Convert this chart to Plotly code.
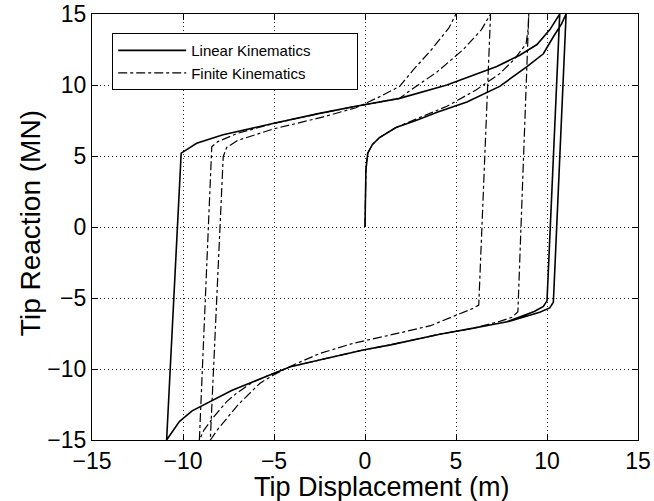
import plotly.graph_objects as go

# ---------------- data ----------------
# Linear kinematics: initial loading branch
lin_load_x = [0, 0.05, 0.15, 0.4, 0.8, 1.7, 2.8, 4.0, 5.6, 7.4, 8.9, 9.8, 10.35, 10.8, 11.05]
lin_load_y = [0, 4.0, 5.2, 5.8, 6.3, 7.0, 7.5, 8.1, 8.8, 9.9, 11.3, 12.2, 13.4, 14.3, 15]
# first unloading branch (to negative side)
lin_unl1_x = [10.35, 10.15, 9.6, 7.9, 5.95, 4.1, 1.4, -0.1, -2.5, -4.1, -5.2, -7.3, -9.5, -10.2, -10.9]
lin_unl1_y = [-5.3, -5.7, -6.0, -6.65, -7.13, -7.55, -8.3, -8.66, -9.37, -9.84, -10.4, -11.5, -12.95, -13.7, -15]
# reloading branch
lin_rel1_x = [-10.1, -9.25, -7.8, -5.0, -2.5, -0.5, 1.9, 4.5, 7.24, 8.5, 9.45, 10.16, 10.7]
lin_rel1_y = [5.2, 5.9, 6.5, 7.3, 8.0, 8.5, 9.06, 10.0, 11.3, 12.1, 12.85, 13.9, 15]
# second unloading branch
lin_unl2_x = [10.0, 9.8, 9.3, 7.8, 5.95, 4.1, 1.4, -0.1, -2.5, -4.1, -5.2, -7.3, -9.5, -10.2, -10.9]
lin_unl2_y = [-5.2, -5.6, -5.95, -6.67, -7.13, -7.55, -8.3, -8.66, -9.37, -9.84, -10.4, -11.5, -12.95, -13.7, -15]

# Finite kinematics branches
fin_load_x = [0, 0.05, 0.15, 0.4, 0.8, 1.7, 2.8, 3.5, 4.5, 6.1, 7.4, 8.2, 8.85, 8.95, 9.0]
fin_load_y = [0, 4.0, 5.2, 5.8, 6.3, 7.0, 7.6, 7.95, 8.5, 9.65, 10.8, 11.8, 12.9, 13.8, 15]
fin_unl1_x = [8.4, 8.1, 7.4, 5.95, 4.1, 1.4, -0.1, -2.5, -4.1, -5.2, -6.2, -7.05, -7.6, -8.33, -8.85, -9.1]
fin_unl1_y = [-5.96, -6.35, -6.65, -7.13, -7.55, -8.3, -8.66, -9.37, -9.84, -10.4, -10.95, -11.7, -12.3, -13.4, -14.3, -15]
fin_rel1_x = [-8.42, -8.1, -7.0, -5.0, -2.5, -0.5, 1.9, 2.47, 3.94, 5.4, 6.4, 6.9]
fin_rel1_y = [5.65, 6.0, 6.6, 7.3, 8.0, 8.5, 9.06, 9.6, 10.9, 12.5, 13.9, 15]
fin_unl2_x = [6.25, 5.9, 4.85, 3.6, 2.1, 0.8, -0.64, -2.47, -4.0, -5.0, -5.77, -6.96, -8.06, -8.5]
fin_unl2_y = [-5.5, -5.75, -6.3, -6.95, -7.4, -7.75, -8.19, -8.9, -9.75, -10.4, -11.0, -12.5, -14.2, -15]
fin_rel2_x = [-7.79, -7.6, -7.0, -5.04, -2.3, -0.5, 0.82, 1.9, 2.65, 3.66, 4.6, 5.0]
fin_rel2_y = [4.95, 5.6, 6.1, 6.9, 7.75, 8.4, 9.18, 9.9, 11.06, 12.5, 14.0, 15]

x_ticks = [-15, -10, -5, 0, 5, 10, 15]
y_ticks = [-15, -10, -5, 0, 5, 10, 15]
series_names = ["Linear Kinematics", "Finite Kinematics"]

lin_x = lin_load_x + lin_unl1_x + lin_rel1_x + lin_unl2_x
lin_y = lin_load_y + lin_unl1_y + lin_rel1_y + lin_unl2_y
fin_x = fin_load_x + fin_unl1_x + fin_rel1_x + fin_unl2_x + fin_rel2_x
fin_y = fin_load_y + fin_unl1_y + fin_rel1_y + fin_unl2_y + fin_rel2_y

FONT = "Liberation Sans, Arial, Helvetica, sans-serif"
PAD = "\u00a0" * 10  # widens the legend box like the original


def fmt(v):
    return ("\u2212" + str(-v)) if v < 0 else str(v)


fig = go.Figure()
fig.add_trace(go.Scatter(x=lin_x, y=lin_y, mode="lines", name=series_names[0] + PAD,
                         line=dict(color="black", width=1.6)))
fig.add_trace(go.Scatter(x=fin_x, y=fin_y, mode="lines", name=series_names[1],
                         line=dict(color="black", width=1.2, dash="dashdot")))

axis_common = dict(
    showline=True, linecolor="black", linewidth=1.2, mirror="ticks",
    ticks="inside", ticklen=6, tickcolor="black", tickwidth=1,
    showgrid=True, gridcolor="#222", griddash="1px,3px", gridwidth=1,
    zeroline=False, automargin=False,
    tickfont=dict(family=FONT, size=23, color="black"),
)

fig.update_xaxes(range=[-15, 15], tickvals=x_ticks, ticktext=[fmt(v) for v in x_ticks], **axis_common)
fig.update_yaxes(range=[-15, 15], tickvals=y_ticks, ticktext=[fmt(v) for v in y_ticks], **axis_common)

fig.update_layout(
    width=654, height=501,
    margin=dict(l=92, r=16, t=14, b=61),
    paper_bgcolor="white", plot_bgcolor="white",
    showlegend=True,
    legend=dict(x=0.037, y=0.955, xanchor="left", yanchor="top",
                bgcolor="white", bordercolor="black", borderwidth=1,
                font=dict(family=FONT, size=15, color="black"),
                itemwidth=68, tracegroupgap=0),
    annotations=[
        dict(text="Tip Displacement (m)", xref="paper", yref="paper", x=0.531, y=-0.110,
             xanchor="center", yanchor="middle", showarrow=False,
             font=dict(family=FONT, size=27, color="black")),
        dict(text="Tip Reaction (MN)", xref="paper", yref="paper", x=-0.1136, y=0.509,
             xanchor="center", yanchor="middle", showarrow=False, textangle=-90,
             font=dict(family=FONT, size=28, color="black")),
    ],
)

fig.write_html("out.html")
